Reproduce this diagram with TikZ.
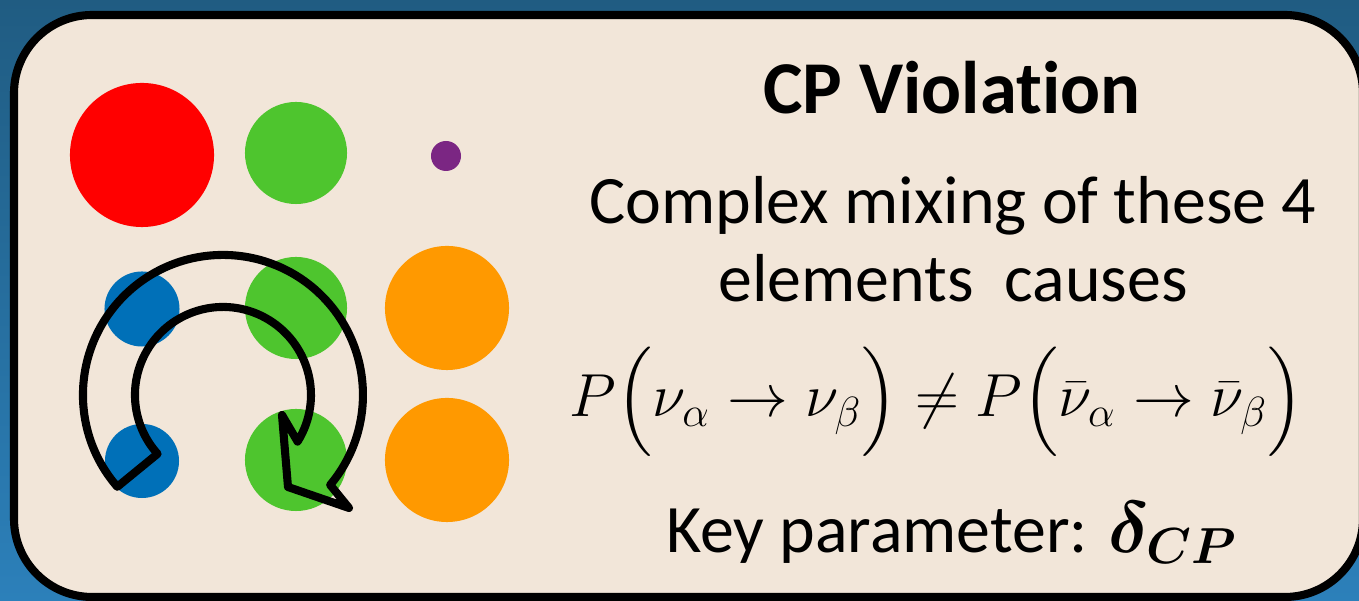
\documentclass[tikz,border=0pt]{standalone}
\usepackage{amsmath}
\usepackage{fontspec}
\setmainfont[Ligatures=NoCommon]{Carlito}
\definecolor{bgtop}{RGB}{32,92,130}
\definecolor{bgbot}{RGB}{44,128,186}
\definecolor{boxfill}{RGB}{242,230,217}
\definecolor{cred}{RGB}{255,0,0}
\definecolor{cgreen}{RGB}{78,197,46}
\definecolor{cblue}{RGB}{0,112,184}
\definecolor{corange}{RGB}{255,153,0}
\definecolor{cpurple}{RGB}{123,38,131}
\tikzset{
  dot/.style={circle,inner sep=0pt,minimum size=#1},
  txt/.style={anchor=base,inner sep=0pt,font=\fontsize{19.3pt}{23pt}\selectfont},
}
\begin{document}
\begin{tikzpicture}[x=0.01cm,y=-0.01cm]
\useasboundingbox (0,0) rectangle (1359,601);
\shade[top color=bgtop,bottom color=bgbot] (0,0) rectangle (1359,601);
\draw[line width=2.3pt,fill=boxfill,rounded corners=0.78cm] (14,15) rectangle (1363,597);
% circles
\node[dot=1.44cm,fill=cred] (r1) at (142,155) {};
\node[dot=1.02cm,fill=cgreen] (g1) at (296,153) {};
\node[dot=0.30cm,fill=cpurple] (p1) at (446,156) {};
\node[dot=0.75cm,fill=cblue] (b2) at (142,309) {};
\node[dot=1.02cm,fill=cgreen] (g2) at (296,308) {};
\node[dot=1.24cm,fill=corange] (o2) at (447,308) {};
\node[dot=0.74cm,fill=cblue] (b3) at (142,461) {};
\node[dot=1.02cm,fill=cgreen] (g3) at (296,460) {};
\node[dot=1.24cm,fill=corange] (o3) at (447,460) {};
% circular arrow
\draw[line width=2.3pt,line join=round] (117.3,486.8) arc[start angle=139,end angle=400,radius=140]
  -- (349,508) -- (288,487) -- (282,415) -- (297.6,441.6)
  arc[start angle=32,end angle=-222,radius=88] -- cycle;
% text
\node[txt,font=\fontsize{21.2pt}{25pt}\selectfont\bfseries] (title) at (952,114) {CP Violation};
\node[txt] (l1) at (953,224) {Complex mixing of these 4};
\node[txt] (l2) at (953,302) {elements\ \ causes};
\node[txt,font=\fontsize{17.6pt}{21pt}\selectfont] (eq) at (937,417) {$P\Bigl(\nu_{\alpha}\rightarrow\nu_{\beta}\Bigr)\neq P\Bigl(\bar{\nu}_{\alpha}\rightarrow\bar{\nu}_{\beta}\Bigr)$};
\node[txt] (key) at (952,553) {Key parameter: $\boldsymbol{\delta_{CP}}$};
\end{tikzpicture}
\end{document}
